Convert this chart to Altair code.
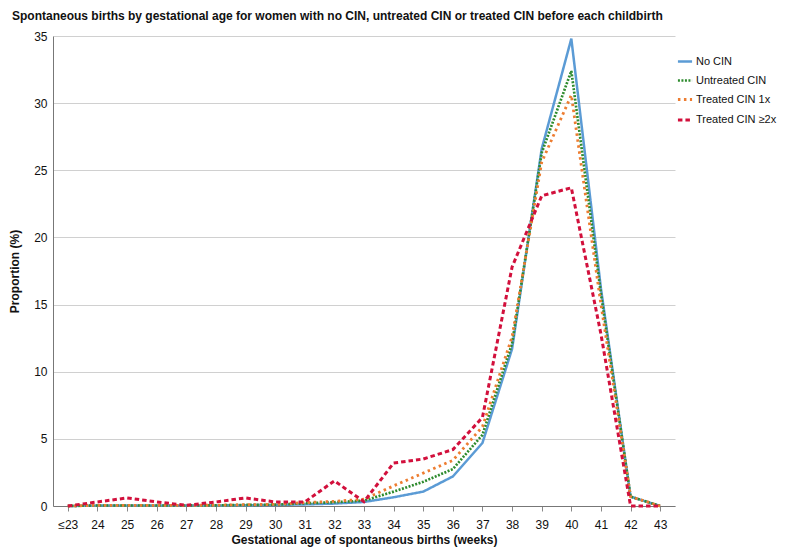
import altair as alt
import pandas as pd

weeks = ["≤23", "24", "25", "26", "27", "28", "29", "30", "31", "32", "33",
         "34", "35", "36", "37", "38", "39", "40", "41", "42", "43"]
series = ["No CIN", "Untreated CIN", "Treated CIN 1x", "Treated CIN ≥2x"]

no_cin =        [0.0, 0.03, 0.03, 0.03, 0.03, 0.04, 0.06, 0.08, 0.12, 0.18, 0.3,
                 0.65, 1.07, 2.2, 4.7, 11.7, 26.6, 34.8, 16.2, 0.7, 0.0]
untreated_cin = [0.0, 0.04, 0.04, 0.04, 0.04, 0.05, 0.08, 0.1, 0.2, 0.28, 0.4,
                 1.07, 1.8, 2.75, 5.3, 12.1, 26.3, 32.4, 15.8, 0.7, 0.0]
treated_1x =    [0.0, 0.05, 0.05, 0.05, 0.05, 0.06, 0.1, 0.12, 0.25, 0.35, 0.5,
                 1.5, 2.45, 3.4, 5.9, 12.6, 25.6, 30.6, 15.0, 0.7, 0.0]
treated_2x =    [0.0, 0.3, 0.6, 0.3, 0.05, 0.3, 0.6, 0.3, 0.3, 1.87, 0.32,
                 3.2, 3.5, 4.2, 6.6, 17.8, 23.1, 23.7, 12.8, 0.0, 0.0]

rows = []
for name, vals in zip(series, [no_cin, untreated_cin, treated_1x, treated_2x]):
    for w, v in zip(weeks, vals):
        rows.append({"week": w, "value": v, "group": name})
df = pd.DataFrame(rows)

colors = ["#5B9BD5", "#2E8B2E", "#ED7D31", "#D2103C"]
dashes = [[1, 0], [2, 1.5], [2.5, 3.5], [4.5, 3]]
widths = [2.5, 3, 3, 3]

chart = alt.Chart(df).mark_line(strokeCap="butt", strokeJoin="miter").encode(
    x=alt.X("week:N", sort=weeks,
            scale=alt.Scale(paddingOuter=0.5),
            axis=alt.Axis(title="Gestational age of spontaneous births (weeks)",
                          labelAngle=0, grid=False, ticks=True, tickSize=5,
                          tickColor="#888888", domainColor="#777777",
                          labelFontSize=12, labelColor="#111111", labelPadding=8,
                          titleFontSize=12, titleFontWeight="bold", titlePadding=4,
                          titleColor="#111111")),
    y=alt.Y("value:Q",
            scale=alt.Scale(domain=[0, 35], nice=False),
            axis=alt.Axis(title="Proportion (%)", values=[0, 5, 10, 15, 20, 25, 30, 35],
                          grid=True, gridColor="#d0d0d0", ticks=False,
                          domainColor="#777777", labelFontSize=12, labelColor="#111111",
                          labelPadding=6, titleFontSize=12, titleFontWeight="bold",
                          titlePadding=12, titleColor="#111111")),
    color=alt.Color("group:N", sort=series,
                    scale=alt.Scale(domain=series, range=colors),
                    legend=alt.Legend(title=None, orient="none", legendX=623, legendY=17,
                                      symbolType="stroke", symbolSize=200,
                                      symbolStrokeWidth=3, labelFontSize=11,
                                      labelColor="#111111", rowPadding=5,
                                      labelOffset=2)),
    strokeDash=alt.StrokeDash("group:N", sort=series,
                              scale=alt.Scale(domain=series, range=dashes),
                              legend=None),
    strokeWidth=alt.StrokeWidth("group:N", sort=series,
                                scale=alt.Scale(domain=series, range=widths),
                                legend=None),
    order=alt.Order("gorder:Q"),
).transform_calculate(
    gorder="indexof(['No CIN','Untreated CIN','Treated CIN 1x','Treated CIN ≥2x'], datum.group)"
).properties(
    width=622, height=470,
    title=alt.TitleParams("Spontaneous births by gestational age for women with no CIN, untreated CIN or treated CIN before each childbirth",
                          anchor="start", frame="group", dx=-41, offset=7,
                          fontSize=12, fontWeight="bold", color="#111111"),
    autosize=alt.AutoSizeParams(type="none"),
    padding={"left": 45, "top": 28, "right": 103, "bottom": 42},
).configure(
    font="Liberation Sans"
).configure_view(stroke=None)

chart.save("out.html", embed_options={"renderer": "svg", "actions": False})
